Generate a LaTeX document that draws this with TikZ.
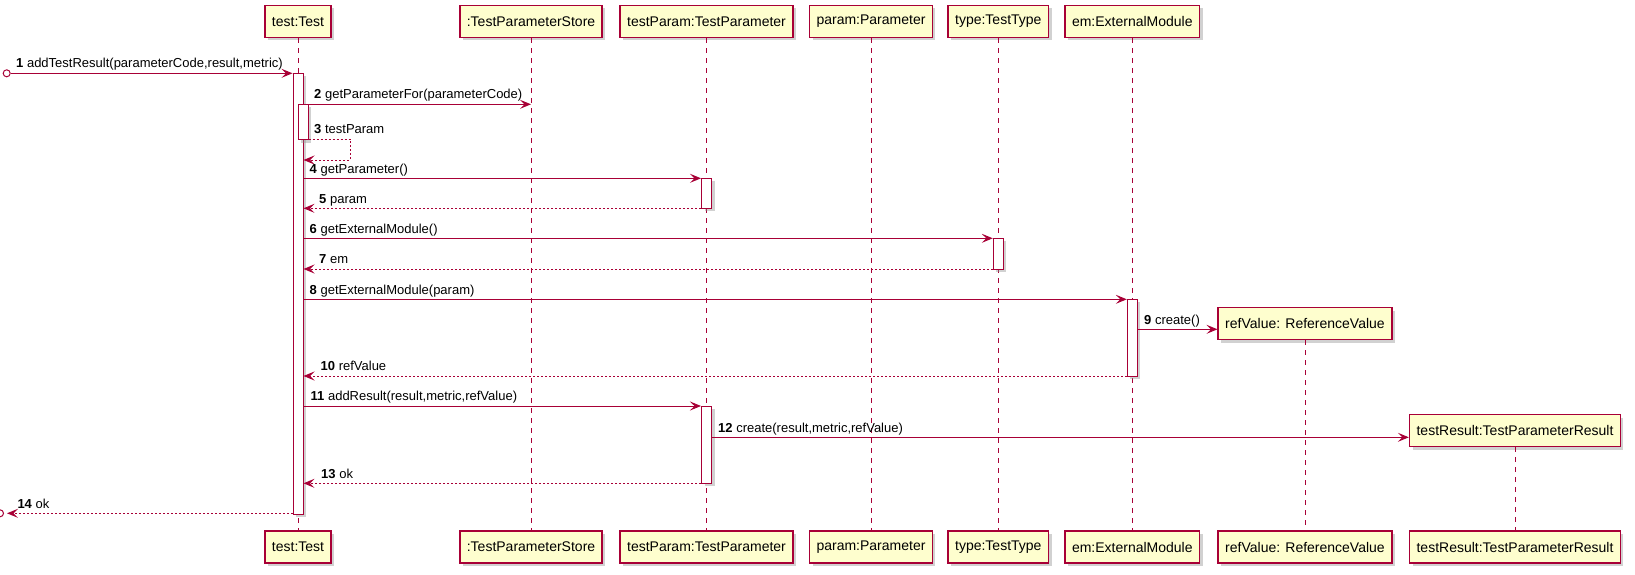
\documentclass[tikz,border=0pt]{standalone}
\usepackage{fontspec}
\setmainfont{Liberation Sans}
\usetikzlibrary{arrows.meta,shadows,calc}
\definecolor{pu}{HTML}{A80036}
\definecolor{pfill}{HTML}{FEFECE}
\begin{document}
\begin{tikzpicture}[x=1pt,y=-1pt,
  part/.style={draw=pu, fill=pfill, line width=1.5pt, minimum height=32pt, inner xsep=7pt, inner ysep=0pt,
    font=\fontsize{14}{16}\selectfont,
    drop shadow={shadow xshift=3pt,shadow yshift=-3pt,opacity=0.4,fill=black!45}},
  life/.style={draw=pu, line width=1pt, dash pattern=on 5pt off 5pt},
  actbar/.style={draw=pu, fill=white, line width=1pt, minimum width=10pt, inner sep=0pt,
    drop shadow={shadow xshift=3pt,shadow yshift=-3pt,opacity=0.4,fill=black!45}},
  msg/.style={draw=pu, line width=1pt, -{Stealth[length=11pt,width=9pt,inset=4.5pt]}},
  ret/.style={msg, dash pattern=on 2pt off 2pt},
  lbl/.style={font=\fontsize{13}{15}\selectfont, anchor=base west, inner sep=0pt},
  endpt/.style={circle, draw=pu, fill=white, line width=1pt, minimum size=7pt, inner sep=0pt}]
\useasboundingbox (0,0) rectangle (1635,575);

% participants top
\node[part] (pTest)  at (298,21.5) {test:Test};
\node[part] (pStore) at (531,21.5) {:TestParameterStore};
\node[part] (pTP)    at (706.5,21.5) {testParam:TestParameter};
\node[part] (pPar)   at (871,21.5) {param:Parameter};
\node[part] (pType)  at (998.3,21.5) {type:TestType};
\node[part] (pEM)    at (1132.3,21.5) {em:ExternalModule};
\node[part] (pRef)   at (1305,323.5) {refValue: ReferenceValue};
\node[part] (pRes)   at (1515,430.5) {testResult:TestParameterResult};
% participants bottom
\node[part] (pTestB)  at (298,547) {test:Test};
\node[part] (pStoreB) at (531,547) {:TestParameterStore};
\node[part] (pTPB)    at (706.5,547) {testParam:TestParameter};
\node[part] (pParB)   at (871,547) {param:Parameter};
\node[part] (pTypeB)  at (998.3,547) {type:TestType};
\node[part] (pEMB)    at (1132.3,547) {em:ExternalModule};
\node[part] (pRefB)   at (1305,547) {refValue: ReferenceValue};
\node[part] (pResB)   at (1515,547) {testResult:TestParameterResult};

% lifelines
\draw[life] (pTest) -- (pTestB);
\draw[life] (pStore) -- (pStoreB);
\draw[life] (pTP) -- (pTPB);
\draw[life] (pPar) -- (pParB);
\draw[life] (pType) -- (pTypeB);
\draw[life] (pEM) -- (pEMB);
\draw[life] (pRef) -- (pRefB);
\draw[life] (pRes) -- (pResB);

% activation bars
\node[actbar, minimum height=441pt] (aT) at (298,293.8) {};
\node[actbar, minimum height=35.7pt] (aN) at (303,122.15) {};
\node[actbar, minimum height=30pt] (aTP1) at (706.5,193.3) {};
\node[actbar, minimum height=30.7pt] (aTy) at (998.3,253.65) {};
\node[actbar, minimum height=76.7pt] (aEM) at (1132.3,337.65) {};
\node[actbar, minimum height=77.3pt] (aTP2) at (706.5,444.65) {};

% found / lost endpoints
\node[endpt] (c1) at (6.7,73.3) {};
\node[endpt] (c14) at (0,513.3) {};

% messages
\draw[msg] (c1.east) -- (aT.west |- c1);
\node[lbl] (l1) at (16,68) {\textbf{1} addTestResult(parameterCode,result,metric)};

\draw[msg] (aT.east |- 0,104.3) -- (pStore |- 0,104.3);
\node[lbl] (l2) at (314,98.8) {\textbf{2} getParameterFor(parameterCode)};

\draw[ret] (aN.east |- 0,139.3) -- ++(42,0) -- ++(0,20.7) -- (aT.east |- 0,160);
\node[lbl] (l3) at (314,134) {\textbf{3} testParam};

\draw[msg] (aT.east |- 0,178.3) -- (aTP1.west |- 0,178.3);
\node[lbl] (l4) at (309.5,173) {\textbf{4} getParameter()};

\draw[ret] (aTP1.west |- 0,208.3) -- (aT.east |- 0,208.3);
\node[lbl] (l5) at (319,203) {\textbf{5} param};

\draw[msg] (aT.east |- 0,238.3) -- (aTy.west |- 0,238.3);
\node[lbl] (l6) at (309.5,233) {\textbf{6} getExternalModule()};

\draw[ret] (aTy.west |- 0,269) -- (aT.east |- 0,269);
\node[lbl] (l7) at (319,263.5) {\textbf{7} em};

\draw[msg] (aT.east |- 0,299.3) -- (aEM.west |- 0,299.3);
\node[lbl] (l8) at (309.5,294) {\textbf{8} getExternalModule(param)};

\draw[msg] (aEM.east |- 0,329.3) -- (pRef.west |- 0,329.3);
\node[lbl] (l9) at (1144,324) {\textbf{9} create()};

\draw[ret] (aEM.west |- 0,376) -- (aT.east |- 0,376);
\node[lbl] (l10) at (320.5,370.5) {\textbf{10} refValue};

\draw[msg] (aT.east |- 0,406) -- (aTP2.west |- 0,406);
\node[lbl] (l11) at (310.5,400.5) {\textbf{11} addResult(result,metric,refValue)};

\draw[msg] (aTP2.east |- 0,437.3) -- (pRes.west |- 0,437.3);
\node[lbl] (l12) at (718,432) {\textbf{12} create(result,metric,refValue)};

\draw[ret] (aTP2.west |- 0,483.3) -- (aT.east |- 0,483.3);
\node[lbl] (l13) at (321,478) {\textbf{13} ok};

\draw[ret, shorten >=3pt] (aT.west |- 0,513.3) -- (c14.east);
\node[lbl] (l14) at (17.3,508) {\textbf{14} ok};
\end{tikzpicture}
\end{document}
